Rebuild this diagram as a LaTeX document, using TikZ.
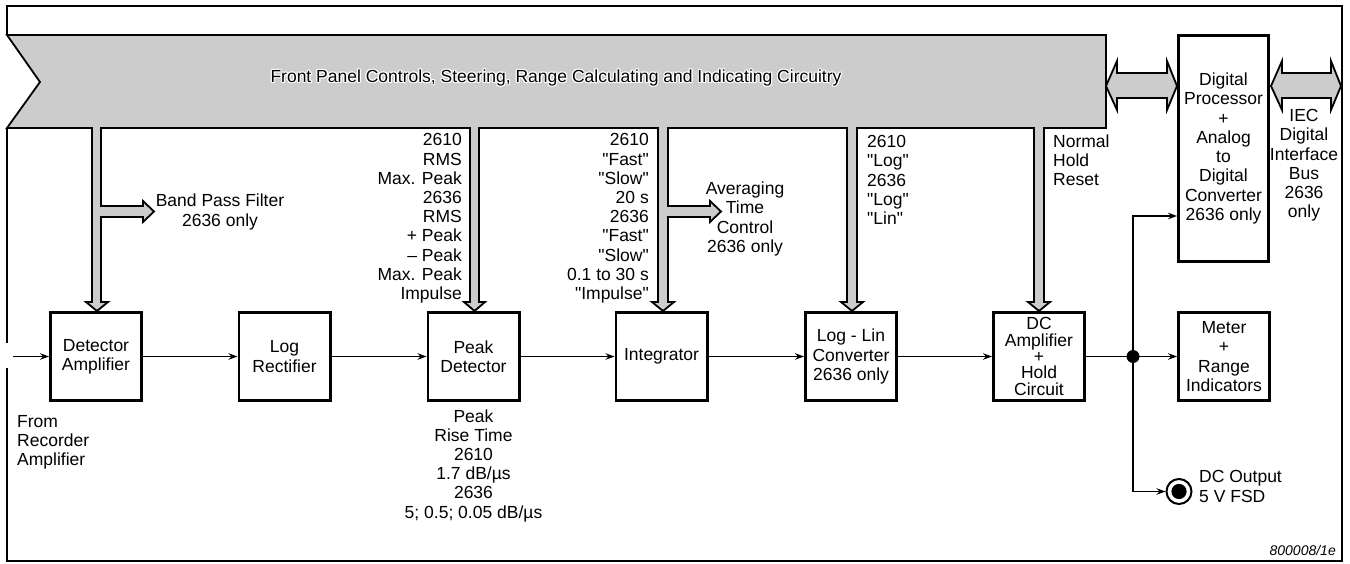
\documentclass[tikz,border=0pt]{standalone}
\usepackage{fontspec}
\setmainfont{Liberation Sans}[Ligatures=TeXOff]
\usetikzlibrary{arrows.meta}
\definecolor{bandgray}{RGB}{204,204,204}
\newcommand\fsz{\fontsize{17.5}{19.2}\selectfont}
\newcommand\fsztight{\fontsize{17.5}{16.3}\selectfont}
\begin{document}
\begin{tikzpicture}[x=1pt,y=-1pt,
  blk/.style={draw, line width=2.6pt, minimum width=91.4pt, minimum height=88.4pt, inner sep=0pt, align=center, font=\fsz},
  lbl/.style={inner sep=0pt, font=\fsz},
  sig/.style={line width=1.5pt, -{Stealth[length=9pt,width=6.5pt]}},
  bus/.style={fill=bandgray, draw=black, line width=1.8pt, line join=miter, miter limit=20},
  frame/.style={line width=1.9pt}]
\useasboundingbox (0,0) rectangle (1350,564);

% outer frame
\draw[frame] (7,368) -- (7,561) -- (1342,561) -- (1342,6) -- (7,6) -- (7,35);
\draw[frame] (7,128) -- (7,343);

% control bus
\draw[bus] (7,35) -- (1106,35) -- (1106,128) -- (1044,128) -- (1044,302) -- (1050,302) -- (1039,311) -- (1028,302) -- (1034,302) -- (1034,128)
  -- (857,128) -- (857,302) -- (863,302) -- (852,311) -- (841,302) -- (847,302) -- (847,128)
  -- (668,128) -- (668,206) -- (710,206) -- (710,201) -- (721,211.5) -- (710,222) -- (710,217) -- (668,217) -- (668,302) -- (674,302) -- (663,311) -- (652,302) -- (658,302) -- (658,128)
  -- (479,128) -- (479,302) -- (485,302) -- (474.5,311) -- (464,302) -- (470,302) -- (470,128)
  -- (101,128) -- (101,206) -- (143,206) -- (143,201) -- (154,211.5) -- (143,222) -- (143,217) -- (101,217) -- (101,302) -- (108,302) -- (97,311) -- (86,302) -- (92,302) -- (92,128)
  -- (7,128) -- (40,82) -- cycle;

% double arrows
\draw[bus] (1106,86) -- (1117,61) -- (1117,73) -- (1167,73) -- (1167,61) -- (1177,86) -- (1167,110) -- (1167,98) -- (1117,98) -- (1117,110) -- cycle;
\draw[bus] (1271,86) -- (1282,61) -- (1282,73) -- (1331,73) -- (1331,61) -- (1341,86) -- (1331,110) -- (1331,98) -- (1282,98) -- (1282,110) -- cycle;

% title with halo
\foreach \dx/\dy [count=\i] in {1.2/0,-1.2/0,0/1.2,0/-1.2,0.9/0.9,-0.9/0.9,0.9/-0.9,-0.9/-0.9}
  \node[lbl, text=white] (halo\i) at (556+\dx,78+\dy) {Front Panel Controls, Steering, Range Calculating and Indicating Circuitry};
\node[lbl] (title) at (556,78) {Front Panel Controls, Steering, Range Calculating and Indicating Circuitry};

% blocks
\node[blk] (det) at (96,356.5) {Detector\\Amplifier};
\node[blk] (logr) at (284.5,356.5) {Log\\Rectifier};
\node[blk] (peak) at (473.5,356.5) {Peak\\Detector};
\node[blk] (integ) at (661.5,356.5) {Integrator};
\node[blk] (loglin) at (851,356.5) {Log - Lin\\Converter\\2636 only};
\node[blk, font=\fsztight] (dcamp) at (1039,356.5) {DC\\Amplifier\\+\\Hold\\Circuit};
\node[blk] (meter) at (1224,356.5) {Meter\\+\\Range\\Indicators};
\node[blk, font=\fontsize{17.5}{19.3}\selectfont, minimum width=90.4pt, minimum height=226.4pt] (dp) at (1223.5,148.5) {Digital\\Processor\\+\\Analog\\to\\Digital\\Converter\\2636 only};

% labels
\node[lbl, align=center] (bpf) at (220,212) {Band Pass Filter\\2636 only};
\node[lbl, align=right, anchor=east] (pkctl) at (462,218.5) {2610\\RMS\\Max. Peak\\2636\\RMS\\+ Peak\\– Peak\\Max. Peak\\Impulse};
\node[lbl, align=right, anchor=east] (intctl) at (649,218.5) {2610\\"Fast"\\"Slow"\\20 s\\2636\\"Fast"\\"Slow"\\0.1 to 30 s\\"Impulse"};
\node[lbl, align=center] (avg) at (745,219) {Averaging\\Time\\Control\\2636 only};
\node[lbl, align=left, anchor=west] (llctl) at (867,180) {2610\\"Log"\\2636\\"Log"\\"Lin"};
\node[lbl, align=left, anchor=west] (hold) at (1053,160.5) {Normal\\Hold\\Reset};
\node[lbl, align=center] (iec) at (1304,165.5) {IEC\\Digital\\Interface\\Bus\\2636\\only};
\node[lbl, align=center] (rise) at (473.5,465.5) {Peak\\Rise Time\\2610\\1.7 dB/µs\\2636\\5; 0.5; 0.05 dB/µs};
\node[lbl, align=left, anchor=west] (from) at (17,442.5) {From\\Recorder\\Amplifier};
\node[lbl, align=left, anchor=west] (dcout) at (1199,486.5) {DC Output\\5 V FSD};
\node[inner sep=0pt, font=\fontsize{14}{16}\selectfont\itshape, anchor=east] (ref) at (1336,550) {800008/1e};

% signal path
\coordinate (in) at (13,356.5);
\coordinate (j) at (1133,356.5);
\coordinate (jt) at (1133,216);
\coordinate (jb) at (1133,491.5);
\node[draw, circle, line width=2pt, minimum size=25pt, inner sep=0pt] (dco) at (1179,491.5) {};
\fill (dco.center) circle (7.6pt);

\draw[sig] (in) -- (det);
\draw[sig] (det) -- (logr);
\draw[sig] (logr) -- (peak);
\draw[sig] (peak) -- (integ);
\draw[sig] (integ) -- (loglin);
\draw[sig] (loglin) -- (dcamp);
\draw[line width=1.5pt] (dcamp) -- (j);
\draw[sig] (j) -- (meter);
\draw[sig] (j) -- (jt) -- (jt -| dp.west);
\draw[sig] (j) -- (jb) -- (dco.west);
\fill (j) circle (6.5pt);
\end{tikzpicture}
\end{document}
